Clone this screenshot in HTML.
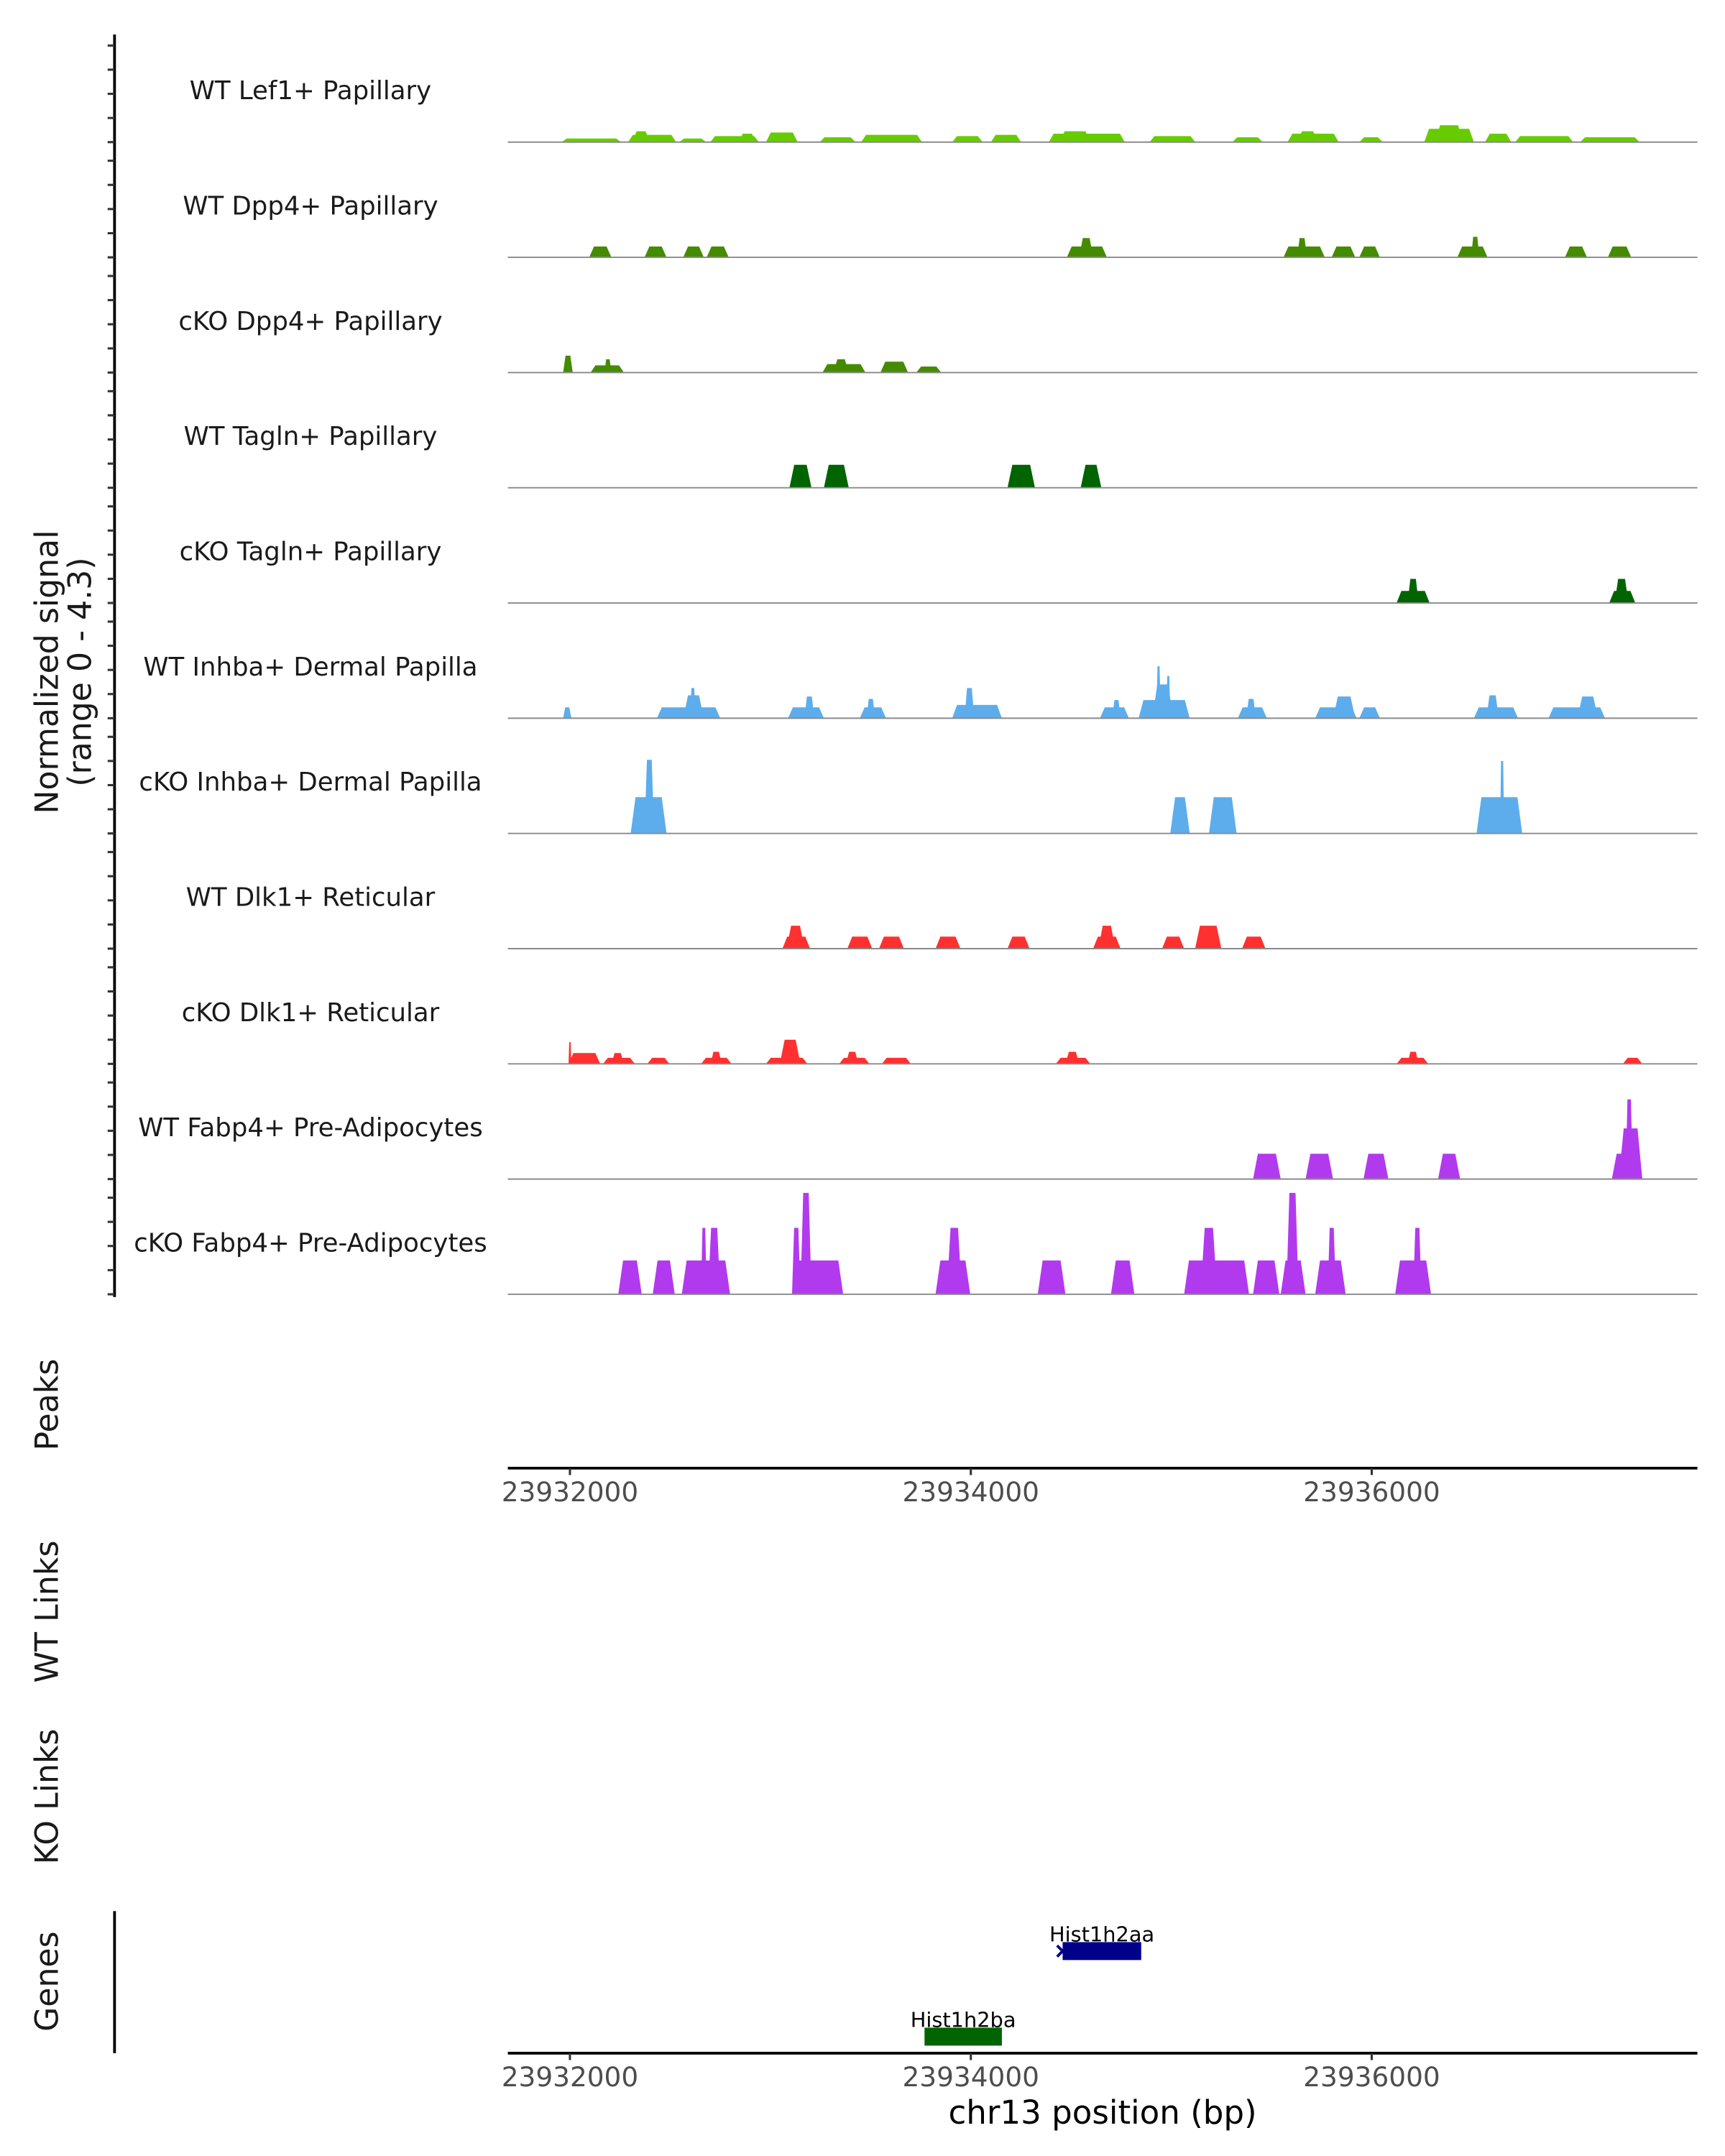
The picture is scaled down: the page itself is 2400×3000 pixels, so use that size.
<!DOCTYPE html>
<html><head><meta charset="utf-8">
<style>
html,body{margin:0;padding:0;background:#fff;}
svg{display:block;font-family:"DejaVu Sans","Liberation Sans",sans-serif;}
</style></head>
<body>
<svg id="chart" width="2400" height="3000" viewBox="0 0 1250 1562.5" xmlns="http://www.w3.org/2000/svg">
  <g id="yaxis"></g>
  <g id="tracks"></g>
  <text transform="translate(42,487) rotate(-90)" text-anchor="middle" font-size="23" fill="#1a1a1a">Normalized signal</text>
  <text transform="translate(66,487) rotate(-90)" text-anchor="middle" font-size="23" fill="#1a1a1a">(range 0 - 4.3)</text>
  <text transform="translate(42,1018) rotate(-90)" text-anchor="middle" font-size="23" fill="#1a1a1a">Peaks</text>
  <text transform="translate(42,1168) rotate(-90)" text-anchor="middle" font-size="23" fill="#1a1a1a">WT Links</text>
  <text transform="translate(42,1302) rotate(-90)" text-anchor="middle" font-size="23" fill="#1a1a1a">KO Links</text>
  <text transform="translate(42,1436) rotate(-90)" text-anchor="middle" font-size="23" fill="#1a1a1a">Genes</text>
  <line x1="83" y1="1385" x2="83" y2="1488" stroke="#000" stroke-width="2"/>
  <g id="xaxes"></g>
  <g id="genes"></g>
  <text x="799" y="1539" text-anchor="middle" font-size="23.5" fill="#000">chr13 position (bp)</text>
</svg>
<script>
const trackNames = ["WT Lef1+ Papillary","WT Dpp4+ Papillary","cKO Dpp4+ Papillary","WT Tagln+ Papillary","cKO Tagln+ Papillary","WT Inhba+ Dermal Papilla","cKO Inhba+ Dermal Papilla","WT Dlk1+ Reticular","cKO Dlk1+ Reticular","WT Fabp4+ Pre-Adipocytes","cKO Fabp4+ Pre-Adipocytes"];
const trackColors = ["#66CC00","#458B00","#458B00","#006400","#006400","#5DADEC","#5DADEC","#FF3030","#FF3030","#B23AEE","#B23AEE"];
const xTicks = [23932000,23934000,23936000];
const peaks0 = [[23931959,23932255,0.15],[23932290,23932530,0.3],[23932310,23932400,0.45],[23932545,23932680,0.15],[23932700,23932943,0.25],[23932840,23932930,0.35],[23932978,23933136,0.4],[23933246,23933425,0.2],[23933453,23933756,0.3],[23933907,23934059,0.25],[23934100,23934251,0.3],[23934389,23934768,0.35],[23934444,23934596,0.45],[23934892,23935120,0.25],[23935305,23935456,0.2],[23935580,23935835,0.35],[23935628,23935732,0.45],[23935938,23936055,0.2],[23936262,23936510,0.55],[23936317,23936455,0.7],[23936565,23936696,0.35],[23936716,23937005,0.25],[23937040,23937336,0.2]];
const peaks1 = [[23932096,23932207,0.45],[23932372,23932482,0.45],[23932565,23932668,0.45],[23932682,23932792,0.45],[23934479,23934679,0.45],[23934541,23934610,0.8],[23935560,23935766,0.45],[23935628,23935677,0.8],[23935800,23935918,0.45],[23935938,23936041,0.45],[23936427,23936578,0.45],[23936496,23936537,0.85],[23936964,23937074,0.45],[23937178,23937295,0.45]];
const peaks2 = [[23931966,23932014,0.7],[23932103,23932269,0.3],[23932172,23932207,0.55],[23933260,23933474,0.35],[23933315,23933390,0.55],[23933549,23933687,0.45],[23933728,23933852,0.25]];
const peaks3 = [[23933095,23933205,0.95],[23933267,23933391,0.95],[23934183,23934320,0.95],[23934548,23934651,0.95]];
const peaks4 = [[23936124,23936289,0.5],[23936179,23936234,1.0],[23937185,23937315,0.5],[23937212,23937281,1.0]];
const peaks5 = [[23931966,23932007,0.45],[23932434,23932750,0.45],[23932565,23932668,0.95],[23932599,23932627,1.25],[23933088,23933267,0.45],[23933170,23933219,0.9],[23933446,23933577,0.45],[23933480,23933522,0.8],[23933907,23934155,0.55],[23933969,23934017,1.25],[23934644,23934789,0.45],[23934706,23934747,0.75],[23934837,23935092,0.75],[23934906,23935009,1.4],[23934926,23934947,2.15],[23934975,23934995,1.75],[23935332,23935477,0.45],[23935374,23935422,0.8],[23935718,23935925,0.45],[23935807,23935918,0.9],[23935938,23936041,0.45],[23936510,23936730,0.45],[23936572,23936634,0.95],[23936882,23937164,0.45],[23937026,23937129,0.9]];
const peaks6 = [[23932303,23932482,1.5],[23932372,23932420,3.05],[23934995,23935092,1.5],[23935188,23935326,1.5],[23936523,23936751,1.5],[23936640,23936661,3.0]];
const peaks7 = [[23933060,23933198,0.5],[23933081,23933170,0.95],[23933384,23933508,0.5],[23933542,23933666,0.5],[23933824,23933948,0.5],[23934183,23934293,0.5],[23934610,23934747,0.5],[23934637,23934720,0.95],[23934954,23935064,0.5],[23935119,23935250,0.95],[23935353,23935470,0.5]];
const peaks8 = [[23931993,23932151,0.45],[23931993,23932007,0.9],[23932165,23932324,0.25],[23932207,23932269,0.45],[23932386,23932496,0.25],[23932654,23932806,0.25],[23932702,23932757,0.5],[23932978,23933185,0.25],[23933047,23933150,1.0],[23933343,23933494,0.25],[23933377,23933439,0.5],[23933556,23933701,0.25],[23934424,23934596,0.25],[23934472,23934541,0.5],[23936124,23936282,0.25],[23936179,23936234,0.5],[23937253,23937350,0.25]];
const peaks9 = [[23935408,23935546,1.05],[23935670,23935807,1.05],[23935959,23936083,1.05],[23936331,23936441,1.05],[23937198,23937350,1.05],[23937233,23937350,2.1],[23937267,23937302,3.3]];
const peaks10 = [[23932241,23932358,1.4],[23932413,23932523,1.4],[23932558,23932799,1.4],[23932654,23932682,2.75],[23932689,23932750,2.75],[23933108,23933363,1.4],[23933108,23933150,2.75],[23933150,23933205,4.2],[23933824,23933997,1.4],[23933880,23933955,2.75],[23934334,23934472,1.4],[23934699,23934816,1.4],[23935064,23935388,1.4],[23935146,23935229,2.75],[23935408,23935539,1.4],[23935546,23935670,1.4],[23935574,23935635,4.2],[23935718,23935870,1.4],[23935780,23935821,2.75],[23936117,23936296,1.4],[23936207,23936248,2.75]];
const allPeaks = [peaks0,peaks1,peaks2,peaks3,peaks4,peaks5,peaks6,peaks7,peaks8,peaks9,peaks10];
const geneNames = ["Hist1h2aa","Hist1h2ba"];
const geneStarts = [23934458,23933769];
const geneEnds = [23934850,23934155];
const geneColors = ["#00008B","#006400"];

const NS = "http://www.w3.org/2000/svg";
function el(tag, attrs, parent){const e=document.createElementNS(NS,tag);for(const k in attrs)e.setAttribute(k,attrs[k]);parent.appendChild(e);return e;}
const X0 = 368, X1 = 1230;
function xScale(bp){return 413 + (bp - 23932000) * 0.14525;}
const UNIT = 17.5;
function baseY(i){return 103 + i * 83.5;}
function yScale(i, v){return baseY(i) - v * UNIT;}

const yax = document.getElementById('yaxis');
const axLine = el('line',{x1:83,y1:25,x2:83,y2:940,stroke:'#000','stroke-width':2},yax);


for(let i=0;i<trackNames.length;i++){
  for(let k=0;k<=4;k++){
    const y=yScale(i,k);
    const t=el('line',{x1:78,y1:y,x2:83,y2:y,stroke:'#333','stroke-width':1.6},yax);
    
    
  }
}

const tg = document.getElementById('tracks');
for(let i=0;i<trackNames.length;i++){
  const g=el('g',{},tg);
  
  
  const lab=el('text',{x:225,y:baseY(i)-31,'text-anchor':'middle','font-size':18.5,fill:'#1a1a1a'},g);
  lab.textContent=trackNames[i];
  
  
  const pk=allPeaks[i].slice().sort((a,b)=>a[2]-b[2]);
  pk.forEach(p=>{
    const xs=xScale(p[0]), xe=xScale(p[1]);
    const r=Math.min(3.5,(xe-xs)/4);
    const yb=baseY(i), yv=yScale(i,p[2]);
    const poly=el('polygon',{points:`${xs},${yb} ${xs+r},${yv} ${xe-r},${yv} ${xe},${yb}`,fill:trackColors[i]},g);
    
    
  });
  const bl=el('line',{x1:X0,y1:baseY(i),x2:X1,y2:baseY(i),stroke:'#8a8a8a','stroke-width':1},g);
  
  
}

const xg=document.getElementById('xaxes');
[1064,1488].forEach((ay,ai)=>{
  const l=el('line',{x1:X0,y1:ay,x2:X1,y2:ay,stroke:'#000','stroke-width':2},xg);
  
  
  xTicks.forEach(v=>{
    const x=xScale(v);
    const t=el('line',{x1:x,y1:ay,x2:x,y2:ay+5,stroke:'#333','stroke-width':1.6},xg);
    
    
    const tl=el('text',{x:x,y:ay+24,'text-anchor':'middle','font-size':19.5,fill:'#4d4d4d'},xg);
    tl.textContent=String(v);
    
    
  });
});

const gg=document.getElementById('genes');
const geneRowY=[1414,1476];
for(let j=0;j<geneNames.length;j++){
  const xs=xScale(geneStarts[j]), xe=xScale(geneEnds[j]);
  const y=geneRowY[j];
  const r=el('rect',{x:xs,y:y-6.5,width:xe-xs,height:13,fill:geneColors[j]},gg);
  
  
  if(j===0){
    const a=el('polyline',{points:`${xs-4},${y-4} ${xs},${y} ${xs-4},${y+4}`,fill:'none',stroke:geneColors[j],'stroke-width':2},gg);
    
    
  }
  const t=el('text',{x:(xs+xe)/2,y:y-7,'text-anchor':'middle','font-size':15,fill:'#000'},gg);
  t.textContent=geneNames[j];
  
  
}
</script>
</body></html>
